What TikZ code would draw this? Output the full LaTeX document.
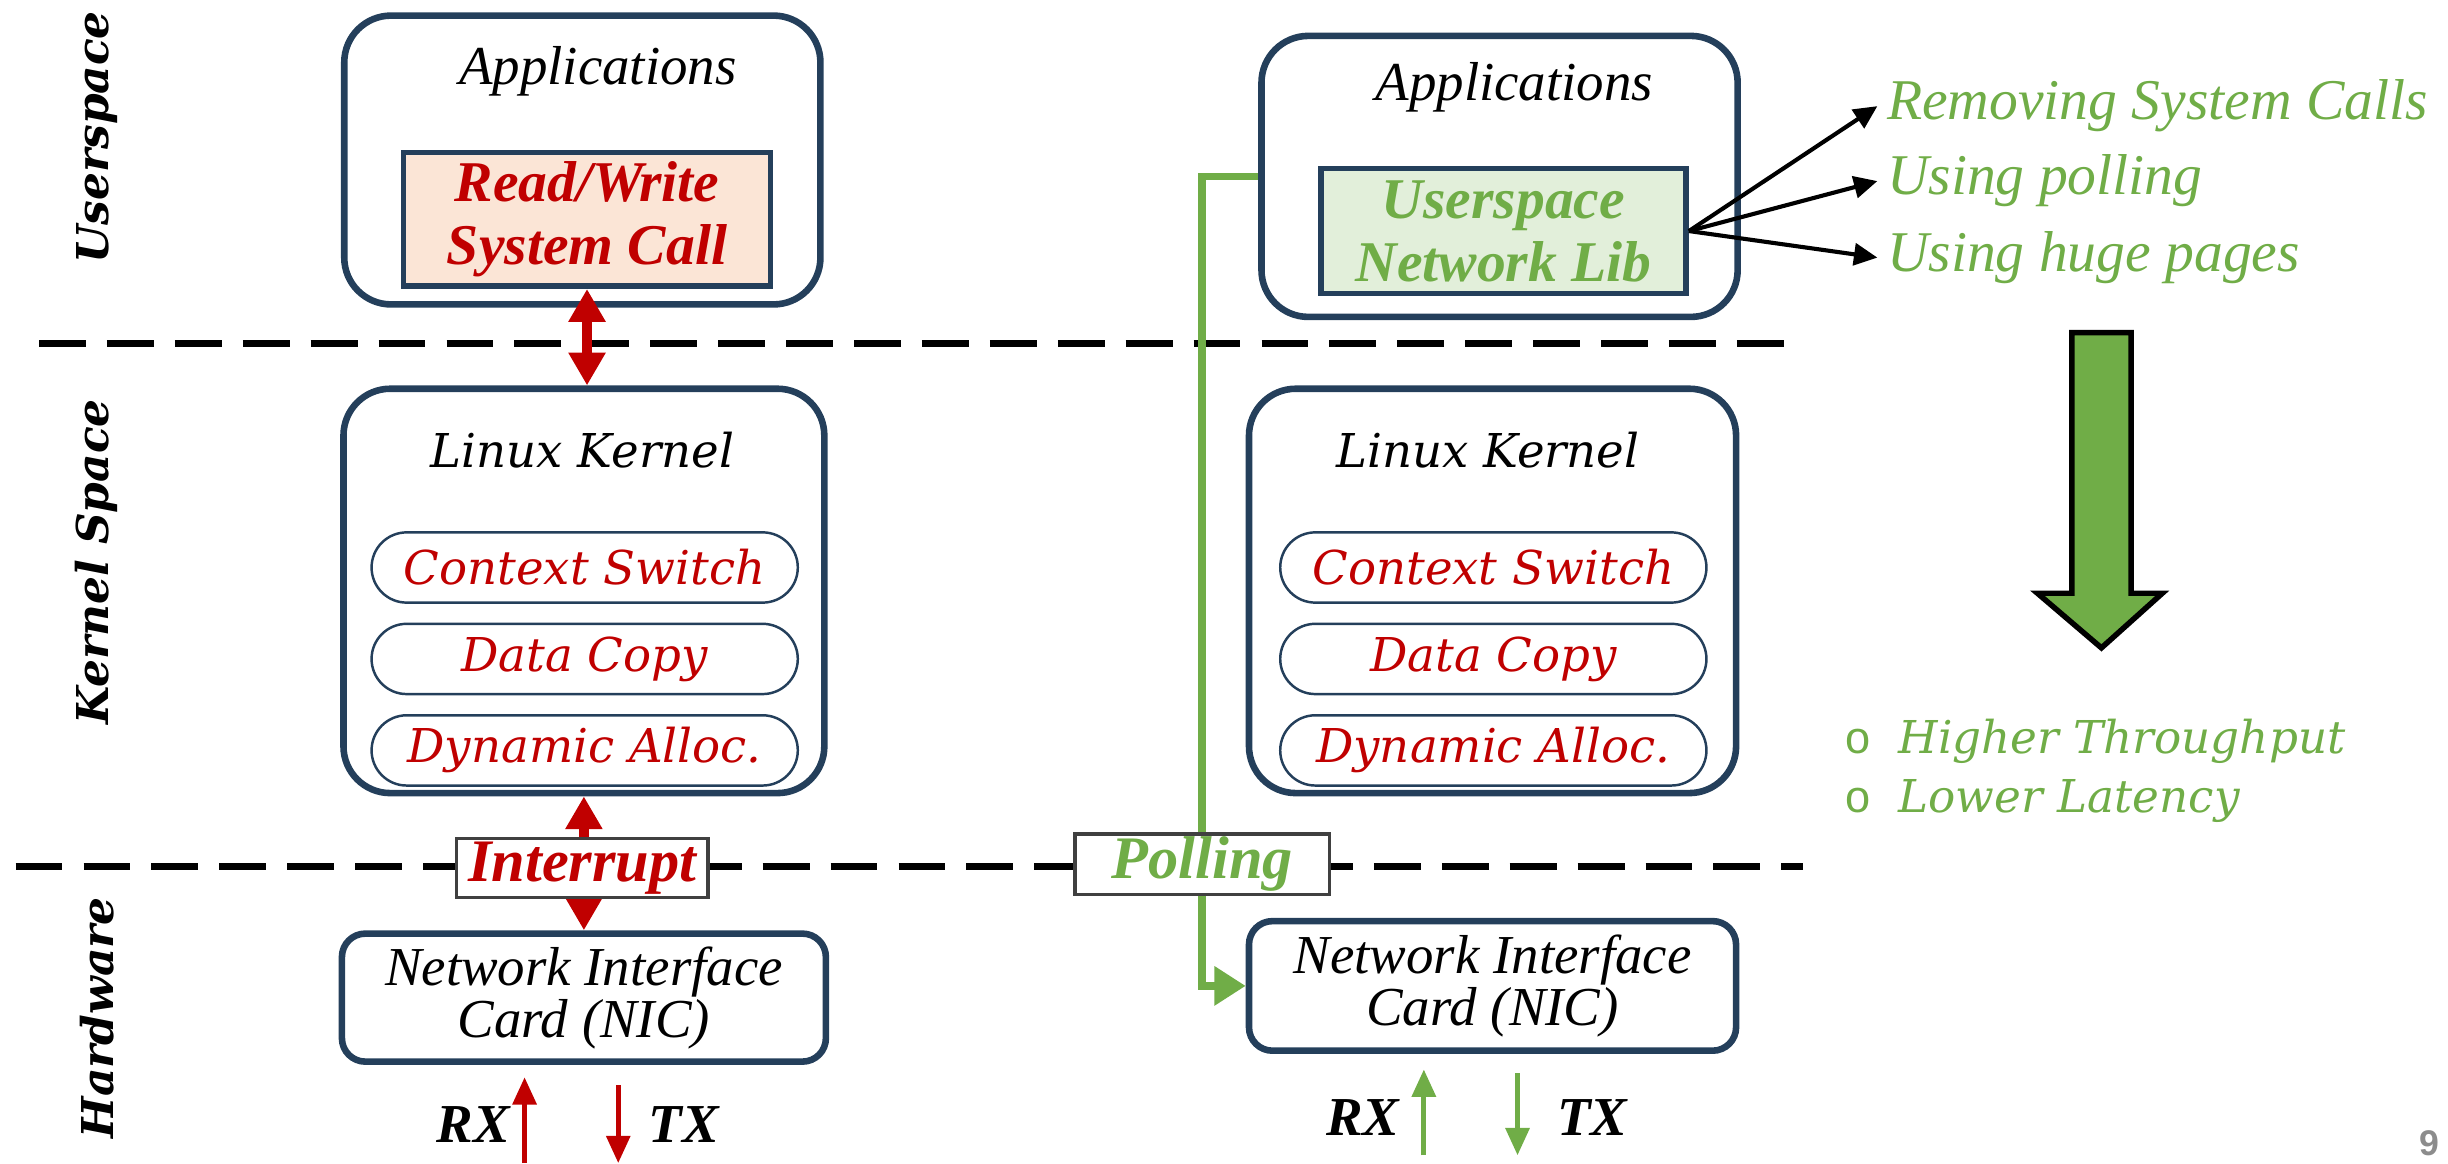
\documentclass[tikz,border=0pt]{standalone}
\usepackage{fontspec}
\setmainfont{Liberation Serif}
\newfontfamily\bookfont{DejaVu Serif}
\newfontfamily\numfont{Liberation Sans}
\newfontfamily\bulletfont{Liberation Mono}
\usetikzlibrary{arrows.meta, positioning}

\definecolor{frameblue}{RGB}{36,63,91}
\definecolor{darkred}{RGB}{192,0,0}
\definecolor{leafgreen}{RGB}{112,173,71}
\definecolor{peach}{RGB}{251,229,214}
\definecolor{palegreen}{RGB}{226,239,218}

\begin{document}
\begin{tikzpicture}[
    node distance=0.24cm,
    layer/.style={rectangle, rounded corners=0.6cm, draw=frameblue, line width=2.4pt, minimum width=6.1cm},
    nicbox/.style={rectangle, rounded corners=0.3cm, draw=frameblue, line width=2.4pt, minimum width=6.2cm, minimum height=1.64cm, align=center, font=\fontsize{20}{19}\selectfont\itshape},
    callbox/.style={rectangle, draw=frameblue, line width=2pt, minimum width=4.7cm, minimum height=1.65cm, align=center, font=\fontsize{21}{23}\selectfont\bfseries\itshape},
    pill/.style={rectangle, rounded corners=0.45cm, draw=frameblue, line width=0.9pt, minimum width=5.46cm, minimum height=0.9cm, text=darkred, font=\fontsize{17}{17}\selectfont\bookfont\itshape},
    title/.style={font=\fontsize{20}{20}\selectfont\itshape},
    ktitle/.style={font=\fontsize{17}{17}\selectfont\bookfont\itshape},
    tag/.style={rectangle, draw=black!75, line width=1.2pt, fill=white, minimum width=3.22cm, minimum height=0.75cm, inner sep=1pt, font=\fontsize{22}{22}\selectfont\bfseries\itshape},
    side/.style={rotate=90, font=\fontsize{16}{16}\selectfont\bookfont\bfseries\itshape},
    io/.style={font=\fontsize{20}{20}\selectfont\bfseries\itshape},
    gain/.style={anchor=west, text=leafgreen, font=\fontsize{21}{21}\selectfont\itshape},
    result/.style={anchor=west, text=leafgreen, font=\fontsize{16.5}{16.5}\selectfont\bookfont\itshape},
    sep/.style={line width=2.4pt, dash pattern=on 0.6cm off 0.27cm},
    redarrow/.style={darkred, line width=3.5pt, {Triangle[length=0.42cm,width=0.45cm]}-{Triangle[length=0.42cm,width=0.45cm]}},
    pollline/.style={leafgreen, line width=2.8pt},
    flow/.style={line width=1.8pt, -{Triangle[length=0.35cm,width=0.3cm]}},
    pick/.style={line width=1.5pt, -{Triangle[length=0.3cm,width=0.28cm]}}
]
\useasboundingbox (0,0) rectangle (31.36,14.9);

% layer separators
\draw[sep] (0.5,10.5) -- (23.1,10.5);
\draw[sep] (0.2,3.8) -- (23.1,3.8);

\node[side] (us) at (1.24,13.14) {Userspace};
\node[side] (ks) at (1.24,7.70) {Kernel Space};
\node[side] (hw) at (1.24,1.86) {Hardware};

% kernel network stack
\node[layer, minimum height=3.7cm] (appsL) at (7.46,12.85) {};
\node[title] (appL) at (7.66,13.98) {Applications};
\node[callbox, fill=peach, text=darkred] (rwL) at (7.52,12.09) {Read/Write\\System Call};
\node[layer, minimum width=6.16cm, minimum height=5.18cm] (kernL) at (7.48,7.33) {};
\node[ktitle] (kL) at (7.46,9.14) {Linux Kernel};
\node[pill] (ctxL) at (7.49,7.63) {Context Switch};
\node[pill, below=of ctxL] (copyL) {Data Copy};
\node[pill, below=of copyL] (allocL) {Dynamic Alloc.};
\node[nicbox] (nicL) at (7.48,2.12) {Network Interface\\Card (NIC)};

\draw[redarrow] (rwL.south) -- (rwL.south |- kernL.north);
\draw[redarrow] (kernL.south) -- (nicL.north);
\node[tag, text=darkred] (intr) at (7.46,3.78) {Interrupt};

\node[io] (rxL) at (6.06,0.50) {RX};
\node[io] (txL) at (8.76,0.50) {TX};
\coordinate (rxLlo) at (6.72,0);
\coordinate (rxLhi) at (6.72,1.1);
\coordinate (txLhi) at (7.92,1.0);
\coordinate (txLlo) at (7.92,0);
\draw[flow, darkred] (rxLlo) -- (rxLhi);
\draw[flow, darkred] (txLhi) -- (txLlo);

% kernel bypass stack
\node[layer, minimum height=3.6cm] (appsR) at (19.21,12.64) {};
\node[title] (appR) at (19.40,13.78) {Applications};
\node[callbox, fill=palegreen, text=leafgreen, minimum width=4.68cm, minimum height=1.6cm] (usnl) at (19.26,11.94) {Userspace\\Network Lib};
\node[layer, minimum width=6.24cm, minimum height=5.18cm] (kernR) at (19.12,7.33) {};
\node[ktitle] (kR) at (19.06,9.14) {Linux Kernel};
\node[pill] (ctxR) at (19.13,7.63) {Context Switch};
\node[pill, below=of ctxR] (copyR) {Data Copy};
\node[pill, below=of copyR] (allocR) {Dynamic Alloc.};
\node[nicbox, minimum width=6.24cm, minimum height=1.66cm] (nicR) at (19.12,2.27) {Network Interface\\Card (NIC)};

\node[tag, text=leafgreen, minimum width=3.26cm] (poll) at (15.40,3.83) {Polling};
\draw[pollline] (appsR.west) -| (poll.north);
\draw[pollline, -{Triangle[length=0.4cm,width=0.48cm]}] (poll.south) |- (nicR.west);

\node[io] (rxR) at (17.46,0.58) {RX};
\node[io] (txR) at (20.40,0.58) {TX};
\coordinate (rxRlo) at (18.24,0.1);
\coordinate (rxRhi) at (18.24,1.2);
\coordinate (txRhi) at (19.44,1.15);
\coordinate (txRlo) at (19.44,0.1);
\draw[flow, leafgreen] (rxRlo) -- (rxRhi);
\draw[flow, leafgreen] (txRhi) -- (txRlo);

% what the library removes
\node[gain] (rm) at (24.05,13.54) {Removing System Calls};
\node[gain] (usepoll) at (24.05,12.58) {Using polling};
\node[gain] (huge) at (24.05,11.60) {Using huge pages};
\draw[pick] (usnl.east) -- (rm.west);
\draw[pick] (usnl.east) -- (usepoll.west);
\draw[pick] (usnl.east) -- (huge.west);

\fill[leafgreen, draw=black, line width=2pt] (26.54,10.64) -- (27.30,10.64) -- (27.30,7.30) -- (27.70,7.30) -- (26.92,6.60) -- (26.10,7.30) -- (26.54,7.30) -- cycle;

\node[result] (thr) at (23.50,5.40) {{\bulletfont\upshape o}\hspace{0.35cm}Higher Throughput};
\node[result] (lat) at (23.50,4.64) {{\bulletfont\upshape o}\hspace{0.35cm}Lower Latency};

\node[text=black!45, font=\fontsize{13}{13}\selectfont\numfont\bfseries] (pg) at (31.12,0.25) {9};
\end{tikzpicture}
\end{document}
